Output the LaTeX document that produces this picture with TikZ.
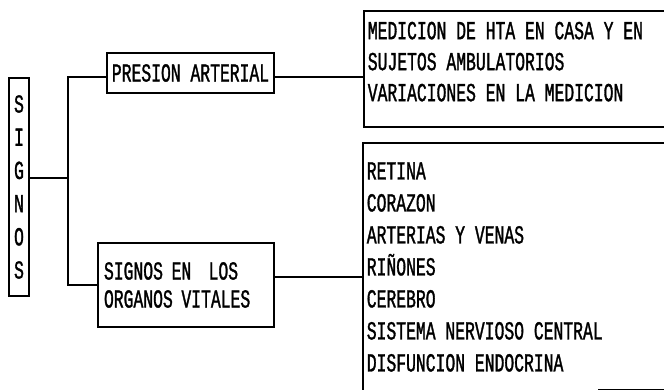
\documentclass[tikz,border=0pt]{standalone}
\usepackage{fontspec}
\newfontfamily\scanfont[FakeStretch=0.63,FakeBold=1.2]{Liberation Mono}
\begin{document}
\begin{tikzpicture}[x=1pt,y=-1pt,line width=1.6pt,
    every node/.style={font=\scanfont\fontsize{26}{31}\selectfont,inner sep=0pt},
    box/.style={draw,rectangle}
    ]
    \useasboundingbox (0,0) rectangle (664,389);
    \clip (0,0) rectangle (664,389);

    \node[box,minimum width=20pt,minimum height=218pt,align=center,font=\scanfont\fontsize{26}{33.2}\selectfont] (signos) at (19,187) {S\\I\\G\\N\\O\\S};
    \node[box,minimum width=167pt,minimum height=40pt] (presion) at (190.5,73) {PRESION ARTERIAL};
    \node[box,minimum width=176pt,minimum height=84pt,align=left,text width=164pt,font=\scanfont\fontsize{26}{28}\selectfont] (organos) at (186,285) {SIGNOS EN\ \ LOS\\ORGANOS VITALES};

    \node[box,minimum width=310pt,minimum height=116pt,anchor=north west] (hta) at (363,10) {};
    \node[anchor=north west,align=left] (htatext) at (367,21) {MEDICION DE HTA EN CASA Y EN\\SUJETOS AMBULATORIOS\\VARIACIONES EN LA MEDICION};
    \node[minimum width=310pt,minimum height=245pt,anchor=north west] (vitals) at (363,143) {};
    \node[anchor=north west,align=left,font=\scanfont\fontsize{26}{32}\selectfont] (vitaltext) at (366,161.5) {RETINA\\CORAZON\\ARTERIAS Y VENAS\\RIÑONES\\CEREBRO\\SISTEMA NERVIOSO CENTRAL\\DISFUNCION ENDOCRINA};

    % tronco
    \coordinate (trunk) at (68,178);
    \draw (signos.east |- trunk) -- (trunk);
    \draw ([yshift=-4pt]presion.west) -| (trunk) |- (organos.west);
    \draw ([yshift=-4pt]presion.east) -- ([yshift=-4pt]presion.east -| hta.west);
    \draw ([yshift=8pt]organos.east) -- ([yshift=8pt]organos.east -| vitals.west);
    \draw (vitals.north east) -- (vitals.north west) -- (vitals.south west);
    \draw ([xshift=235pt]vitals.south west) -- (vitals.south east);
  \end{tikzpicture}
\end{document}
